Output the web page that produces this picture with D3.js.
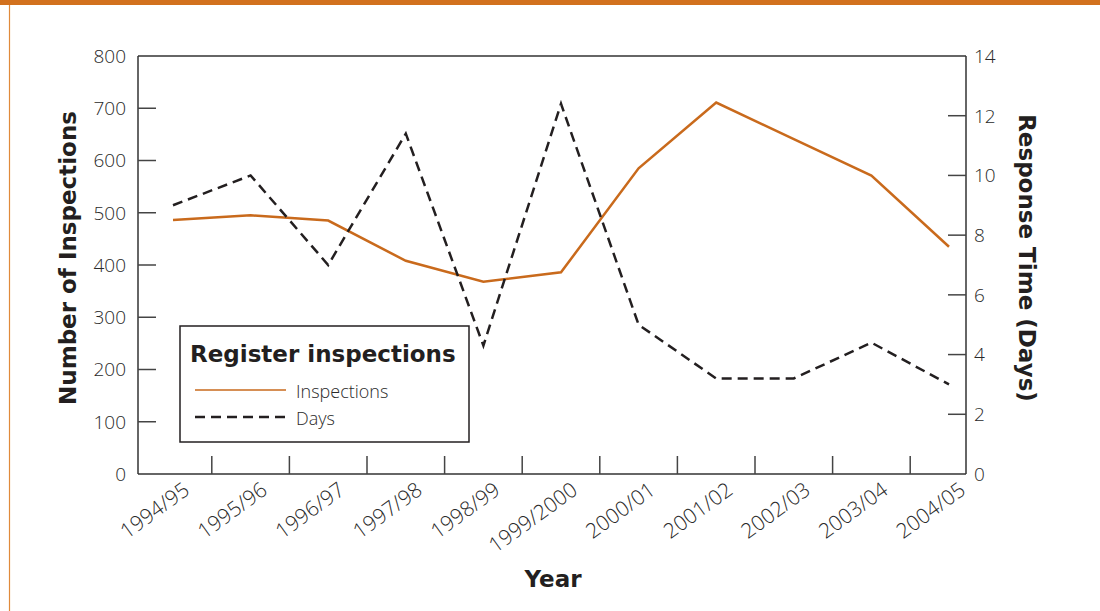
<!DOCTYPE html>
<html>
<head>
<meta charset="utf-8">
<script src="https://cdn.jsdelivr.net/npm/d3@7"></script>
<style>
  body { margin: 0; background: #fff; }
  svg { display: block; font-family: "Open Sans", "DejaVu Sans", sans-serif; }
  .tick-label { font-size: 19px; fill: #2a2a2a; font-weight: 300; }
  .title { font-family: "DejaVu Sans", sans-serif; font-weight: bold; fill: #231f20; }
</style>
</head>
<body>
<svg id="chart"></svg>
<script>
// данные
let years = ["1994/95","1995/96","1996/97","1997/98","1998/99","1999/2000",
             "2000/01","2001/02","2002/03","2003/04","2004/05"];
let inspections = [486, 495, 485, 408, 368, 386, 585, 711, 641, 571, 435];
let days = [9.0, 10.0, 7.0, 11.4, 4.3, 12.4, 5.0, 3.2, 3.2, 4.4, 3.0];
let leftTicks = [0, 100, 200, 300, 400, 500, 600, 700, 800];
let rightTicks = [0, 2, 4, 6, 8, 10, 12, 14];

let width = 1100, height = 611;
let plotLeft = 138, plotRight = 966, plotTop = 56, plotBottom = 474;
let orange = "#c96a1c";

let svg = d3.select("#chart").attr("width", width).attr("height", height);

// рамка
svg.append("rect").attr("x", 0).attr("y", 0).attr("width", width).attr("height", 5).attr("fill", "#d2711e");
svg.append("line").attr("x1", 9.5).attr("x2", 9.5).attr("y1", 5).attr("y2", height)
    .attr("stroke", "#e08a3a").attr("stroke-width", 1.2);

// шкалы
let scaleX = d3.scalePoint().domain(years).range([173, 949]);
let yLeft = d3.scaleLinear().domain([0, 800]).range([plotBottom, plotTop]);
let yRight = d3.scaleLinear().domain([0, 14]).range([plotBottom, plotTop]);
let step = scaleX.step();

// оси
let axisLeft = svg.append("g");
axisLeft.append("line").attr("x1", plotLeft).attr("x2", plotLeft).attr("y1", plotTop).attr("y2", plotBottom)
    .attr("stroke", "#333").attr("stroke-width", 1.5);
axisLeft.selectAll("line.t").data(leftTicks.filter(d => d > 0 && d < 800)).enter()
    .append("line").attr("class", "t")
    .attr("x1", plotLeft).attr("x2", plotLeft + 18)
    .attr("y1", d => yLeft(d)).attr("y2", d => yLeft(d))
    .attr("stroke", "#444").attr("stroke-width", 1.5);
axisLeft.selectAll("text").data(leftTicks).enter().append("text")
    .attr("class", "tick-label")
    .attr("x", 126).attr("y", d => yLeft(d)).attr("dy", "0.36em")
    .attr("text-anchor", "end").text(d => d);

let axisRight = svg.append("g");
axisRight.append("line").attr("x1", plotRight).attr("x2", plotRight).attr("y1", plotTop).attr("y2", plotBottom)
    .attr("stroke", "#333").attr("stroke-width", 1.5);
axisRight.selectAll("line.t").data(rightTicks.filter(d => d > 0 && d < 14)).enter()
    .append("line").attr("class", "t")
    .attr("x1", plotRight - 18).attr("x2", plotRight)
    .attr("y1", d => yRight(d)).attr("y2", d => yRight(d))
    .attr("stroke", "#444").attr("stroke-width", 1.5);
axisRight.selectAll("text").data(rightTicks).enter().append("text")
    .attr("class", "tick-label")
    .attr("x", 974).attr("y", d => yRight(d)).attr("dy", "0.36em")
    .attr("text-anchor", "start").text(d => d);

// верхняя и нижняя линии
svg.append("line").attr("x1", plotLeft).attr("x2", plotRight).attr("y1", plotTop).attr("y2", plotTop)
    .attr("stroke", "#333").attr("stroke-width", 1.5);
let axisBottom = svg.append("g");
axisBottom.append("line").attr("x1", plotLeft).attr("x2", plotRight).attr("y1", plotBottom).attr("y2", plotBottom)
    .attr("stroke", "#333").attr("stroke-width", 1.5);
axisBottom.selectAll("line.t").data(years.slice(0, -1)).enter()
    .append("line").attr("class", "t")
    .attr("x1", d => scaleX(d) + step / 2).attr("x2", d => scaleX(d) + step / 2)
    .attr("y1", plotBottom).attr("y2", plotBottom - 18)
    .attr("stroke", "#444").attr("stroke-width", 1.5);
axisBottom.selectAll("text").data(years).enter().append("text")
    .attr("class", "tick-label").style("font-size", "21px")
    .attr("text-anchor", "end")
    .attr("transform", d => `translate(${scaleX(d) + 18}, ${493}) rotate(-36)`)
    .text(d => d);

// линии данных
let lineInsp = d3.line().x((d, i) => scaleX(years[i])).y(d => yLeft(d));
let lineDays = d3.line().x((d, i) => scaleX(years[i])).y(d => yRight(d));

svg.append("path").datum(inspections).attr("d", lineInsp)
    .attr("fill", "none").attr("stroke", orange).attr("stroke-width", 2.5);
svg.append("path").datum(days).attr("d", lineDays)
    .attr("fill", "none").attr("stroke", "#231f20").attr("stroke-width", 2.5)
    .attr("stroke-dasharray", "10,6");

// подписи осей
svg.append("text").attr("class", "title")
    .attr("transform", `translate(76, 258) rotate(-90)`)
    .attr("text-anchor", "middle").style("font-size", "23px")
    .text("Number of Inspections");
svg.append("text").attr("class", "title")
    .attr("transform", `translate(1019, 258) rotate(90)`)
    .attr("text-anchor", "middle").style("font-size", "23px")
    .text("Response Time (Days)");
svg.append("text").attr("class", "title")
    .attr("x", 553).attr("y", 587).attr("text-anchor", "middle").style("font-size", "23px")
    .text("Year");

// легенда
let legend = svg.append("g");
legend.append("rect").attr("x", 180).attr("y", 326).attr("width", 289).attr("height", 116)
    .attr("fill", "#fff").attr("stroke", "#231f20").attr("stroke-width", 1.5);
legend.append("text").attr("class", "title").attr("x", 190).attr("y", 362)
    .style("font-size", "23px").text("Register inspections");
legend.append("line").attr("x1", 195).attr("x2", 286).attr("y1", 390).attr("y2", 390)
    .attr("stroke", orange).attr("stroke-width", 1.5);
legend.append("text").attr("class", "tick-label").style("font-size", "18px")
    .attr("x", 296).attr("y", 398).text("Inspections");
legend.append("line").attr("x1", 195).attr("x2", 286).attr("y1", 417).attr("y2", 417)
    .attr("stroke", "#231f20").attr("stroke-width", 2.5).attr("stroke-dasharray", "10,6");
legend.append("text").attr("class", "tick-label").style("font-size", "18px")
    .attr("x", 296).attr("y", 425).text("Days");
</script>
</body>
</html>
